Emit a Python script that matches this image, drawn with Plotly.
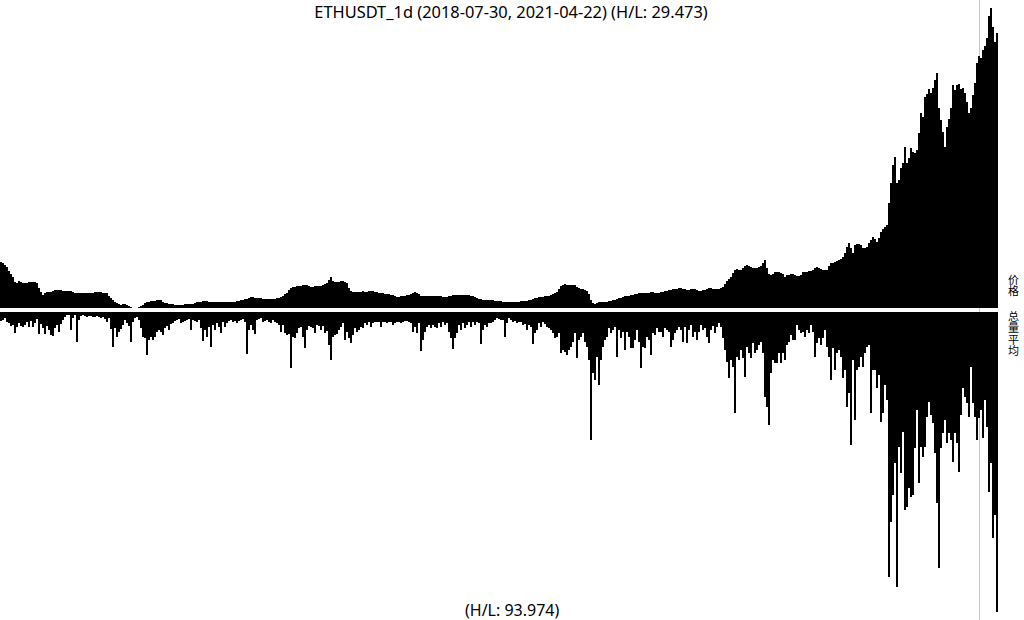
import pandas as pd
import plotly.graph_objects as go

symbol = "ETHUSDT_1d"
start_date = "2018-07-30"
end_date = "2021-04-22"
price_hl_text = "29.473"
volume_hl_text = "93.974"
cursor_date = "2021-04-04 12:00"
price_label = "价格"
volume_label = "总量平均"

# 2-day closing price (USDT)
price = [
    452, 444, 428, 412, 380, 356, 332, 292, 284, 300,
    292, 284, 284, 284, 292, 292, 292, 292, 284, 244,
    212, 188, 204, 212, 212, 212, 220, 228, 228, 228,
    228, 220, 220, 220, 220, 220, 212, 204, 204, 204,
    204, 204, 204, 204, 204, 204, 204, 212, 212, 212,
    212, 204, 204, 204, 180, 164, 148, 132, 124, 116,
    108, 116, 116, 108, 100, 92, 84, 84, 84, 92,
    100, 108, 124, 132, 132, 140, 140, 140, 148, 148,
    148, 132, 124, 124, 116, 116, 116, 108, 108, 108,
    108, 108, 116, 116, 116, 116, 116, 124, 132, 132,
    132, 140, 140, 140, 132, 132, 132, 132, 132, 132,
    132, 132, 132, 132, 132, 132, 132, 132, 140, 140,
    148, 148, 156, 156, 164, 172, 172, 164, 164, 164,
    164, 156, 156, 156, 156, 156, 156, 156, 164, 164,
    172, 180, 196, 204, 228, 244, 252, 252, 260, 260,
    260, 268, 268, 268, 260, 252, 252, 260, 260, 260,
    260, 268, 276, 284, 308, 332, 300, 292, 292, 292,
    300, 300, 292, 284, 244, 220, 212, 212, 212, 212,
    212, 220, 212, 212, 220, 220, 220, 212, 212, 204,
    204, 204, 196, 196, 196, 188, 188, 180, 172, 172,
    180, 180, 180, 188, 188, 196, 204, 212, 204, 196,
    180, 180, 180, 180, 180, 180, 180, 180, 180, 180,
    180, 172, 172, 172, 180, 180, 188, 188, 188, 188,
    188, 188, 188, 188, 188, 180, 180, 172, 164, 156,
    156, 148, 148, 148, 148, 148, 148, 140, 140, 140,
    140, 132, 132, 132, 132, 132, 132, 132, 132, 132,
    140, 140, 140, 140, 148, 148, 156, 164, 164, 172,
    172, 172, 180, 180, 180, 188, 196, 204, 212, 236,
    260, 268, 276, 268, 268, 268, 268, 268, 252, 244,
    236, 236, 228, 220, 196, 148, 124, 116, 124, 132,
    132, 132, 132, 132, 140, 140, 148, 148, 156, 164,
    164, 172, 180, 180, 180, 188, 188, 196, 196, 204,
    204, 204, 204, 204, 204, 212, 212, 204, 204, 204,
    212, 212, 220, 220, 228, 228, 236, 236, 236, 244,
    244, 236, 236, 228, 228, 236, 236, 236, 228, 220,
    220, 228, 228, 236, 244, 244, 236, 236, 236, 236,
    244, 252, 276, 300, 316, 332, 364, 388, 396, 388,
    388, 404, 420, 428, 420, 412, 404, 404, 404, 412,
    420, 444, 468, 404, 356, 348, 356, 372, 372, 372,
    364, 356, 332, 348, 348, 356, 356, 348, 340, 340,
    348, 372, 372, 372, 380, 380, 388, 404, 412, 404,
    396, 388, 388, 388, 420, 444, 444, 452, 460, 468,
    476, 492, 524, 572, 604, 564, 524, 588, 596, 596,
    588, 564, 564, 572, 604, 628, 652, 636, 612, 644,
    692, 716, 732, 748, 924, 1084, 1228, 1292, 1084, 1108,
    1204, 1244, 1372, 1244, 1284, 1364, 1332, 1324, 1348, 1484,
    1644, 1612, 1772, 1796, 1836, 1804, 1844, 1908, 1964, 1684,
    1588, 1492, 1372, 1532, 1596, 1684, 1868, 1828, 1868, 1876,
    1836, 1844, 1804, 1732, 1644, 1684, 1788, 1884, 2044, 2100,
    2084, 2148, 2180, 2244, 2420, 2484, 2332, 2212, 2284,
]

# 2-day average volume (million USDT)
volume = [
    180, 160, 120, 200, 220, 280, 260, 420, 300, 220,
    280, 300, 260, 200, 300, 180, 300, 220, 140, 440,
    240, 320, 440, 280, 360, 460, 480, 320, 260, 400,
    240, 160, 100, 60, 60, 360, 120, 60, 600, 160,
    80, 60, 80, 100, 80, 80, 100, 100, 80, 100,
    120, 100, 140, 200, 120, 340, 700, 320, 500, 400,
    340, 260, 160, 220, 280, 600, 200, 120, 100, 160,
    320, 500, 520, 860, 560, 500, 560, 500, 400, 360,
    400, 460, 320, 280, 360, 240, 220, 180, 160, 140,
    220, 200, 180, 160, 140, 360, 160, 180, 200, 160,
    320, 580, 360, 500, 300, 700, 260, 360, 220, 300,
    420, 200, 300, 220, 180, 160, 200, 180, 220, 180,
    160, 140, 200, 840, 360, 260, 360, 440, 160, 140,
    120, 200, 180, 160, 200, 220, 160, 200, 220, 260,
    400, 260, 420, 460, 440, 1120, 500, 520, 420, 320,
    300, 500, 720, 360, 280, 300, 320, 420, 260, 280,
    360, 280, 420, 380, 660, 960, 500, 460, 440, 360,
    300, 220, 560, 400, 520, 620, 460, 320, 400, 360,
    300, 320, 220, 260, 200, 300, 220, 200, 200, 200,
    300, 200, 200, 220, 200, 200, 260, 220, 200, 200,
    220, 200, 180, 180, 200, 220, 400, 300, 420, 220,
    780, 560, 400, 300, 260, 320, 260, 300, 320, 220,
    300, 200, 260, 220, 400, 520, 740, 520, 420, 260,
    360, 220, 320, 260, 200, 300, 200, 260, 200, 220,
    640, 360, 260, 300, 220, 220, 200, 160, 120, 140,
    160, 160, 500, 220, 120, 160, 200, 180, 220, 200,
    200, 260, 240, 360, 260, 300, 640, 420, 360, 220,
    300, 200, 240, 300, 320, 360, 420, 520, 500, 420,
    820, 760, 800, 860, 760, 700, 600, 420, 920, 560,
    500, 420, 600, 700, 960, 2560, 1220, 1360, 900, 1460,
    960, 700, 560, 500, 320, 420, 360, 300, 900, 360,
    520, 400, 760, 400, 500, 720, 720, 560, 360, 600,
    1120, 700, 720, 500, 560, 860, 420, 460, 320, 400,
    400, 500, 320, 360, 400, 700, 560, 420, 360, 300,
    360, 600, 300, 620, 360, 260, 500, 400, 560, 400,
    260, 360, 320, 500, 620, 360, 280, 420, 300, 220,
    300, 520, 760, 1000, 1320, 960, 1100, 2020, 900, 960,
    760, 920, 1300, 700, 820, 920, 620, 820, 760, 660,
    600, 820, 1700, 1900, 2260, 1220, 960, 1020, 1020, 820,
    1020, 820, 960, 660, 600, 460, 560, 560, 260, 360,
    420, 400, 500, 360, 420, 260, 400, 900, 620, 520,
    660, 520, 360, 700, 900, 1360, 720, 1160, 820, 760,
    900, 1320, 1160, 1900, 1620, 2660, 960, 2160, 1160, 1100,
    900, 1100, 820, 700, 660, 2020, 1160, 1160, 1520, 1260,
    2200, 2020, 1460, 1760, 5300, 4200, 3660, 3020, 5500, 2700,
    3220, 2400, 3960, 3900, 3520, 3700, 3660, 2720, 1960, 3420,
    2700, 2900, 2700, 2100, 1800, 2060, 2220, 2820, 3820, 5120,
    2720, 2420, 2160, 2620, 2420, 2560, 3000, 2420, 2620, 3200,
    2060, 1520, 1700, 1820, 2100, 1100, 1820, 2100, 2560, 2120,
    1960, 2520, 1760, 2300, 3600, 3020, 4520, 4060, 6000,
]

W, H = 1024, 620
ML, MR, MT, MB = 0, 26, 8, 8
plot_h = H - MT - MB
plot_w = W - ML - MR

def py(ypx):
    return (H - MB - ypx) / plot_h

day_ms = 86400000
p_dates = pd.date_range(start_date, periods=len(price), freq="2D")
v_dates = pd.date_range(start_date, periods=len(volume), freq="2D")
x_end = p_dates[-1] + pd.Timedelta(days=2)

fig = go.Figure()
fig.add_trace(go.Bar(
    x=p_dates, y=price, width=2 * day_ms, offset=0,
    marker=dict(color="#000000", line=dict(width=0)),
    xaxis="x", yaxis="y", hoverinfo="skip", showlegend=False,
))
fig.add_trace(go.Bar(
    x=v_dates, y=volume, width=2 * day_ms, offset=0,
    marker=dict(color="#000000", line=dict(width=0)),
    xaxis="x2", yaxis="y2", hoverinfo="skip", showlegend=False,
))

ax_common = dict(visible=False, showgrid=False, zeroline=False, fixedrange=True)
sans = "Noto Sans, Open Sans, DejaVu Sans, sans-serif"
fig.update_layout(
    width=W, height=H,
    margin=dict(l=ML, r=MR, t=MT, b=MB, pad=0),
    paper_bgcolor="white", plot_bgcolor="white",
    bargap=0, barmode="overlay",
    xaxis=dict(domain=[0, 1], range=[p_dates[0], x_end], anchor="y", **ax_common),
    yaxis=dict(domain=[py(308), 1], range=[min(price), max(price)], anchor="x", **ax_common),
    xaxis2=dict(domain=[0, 1], range=[v_dates[0], x_end], anchor="y2", matches="x", **ax_common),
    # volume hangs downward from the top edge of its panel
    yaxis2=dict(domain=[0, py(312)], range=[max(volume), 0], anchor="x2", **ax_common),
    font=dict(family=sans, color="#000000"),
    title=dict(
        text=f"{symbol} ({start_date}, {end_date}) (H/L: {price_hl_text})",
        x=511 / W, xref="container", xanchor="center",
        y=1 - 12 / H, yref="container", yanchor="middle",
        font=dict(size=16.4, family=sans, color="#000000"),
        pad=dict(t=0, b=0, l=0, r=0),
    ),
)

# cursor line (drawn beneath the bars)
fig.add_shape(type="line", xref="x", yref="paper",
              x0=cursor_date, x1=cursor_date, y0=-0.02, y1=1.02,
              line=dict(color="#c8c8c8", width=1), layer="below")

annos = []
annos.append(dict(text=f"(H/L: {volume_hl_text})", xref="paper", yref="paper",
                  x=511.5 / plot_w, y=py(609.5), xanchor="center", yanchor="middle",
                  showarrow=False, font=dict(size=16, family=sans, color="#000000")))
cjk = "Noto Sans CJK SC"
pitch = 11.4
for i, ch in enumerate(price_label):
    annos.append(dict(text=ch, xref="paper", yref="paper",
                      x=1013 / plot_w, y=py(279 + pitch * i),
                      xanchor="center", yanchor="middle", showarrow=False,
                      borderpad=0,
                      font=dict(size=11, family=cjk, color="#000000")))
for i, ch in enumerate(volume_label):
    annos.append(dict(text=ch, xref="paper", yref="paper",
                      x=1013 / plot_w, y=py(316 + pitch * i),
                      xanchor="center", yanchor="middle", showarrow=False,
                      borderpad=0,
                      font=dict(size=11, family=cjk, color="#000000")))
fig.update_layout(annotations=annos)

fig.write_html("out.html", config={"displayModeBar": False})
